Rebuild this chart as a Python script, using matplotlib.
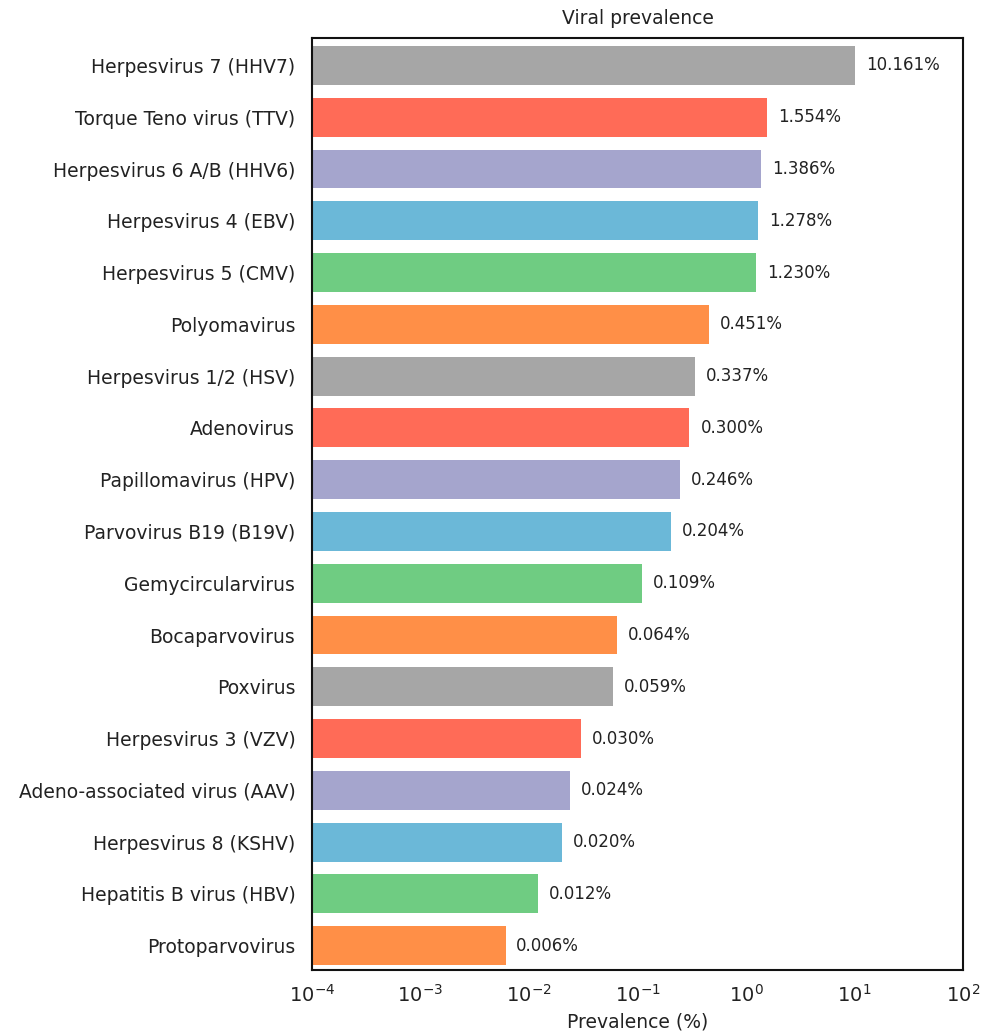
import matplotlib
matplotlib.use('Agg')
import matplotlib.pyplot as plt
import numpy as np

# virus names, top to bottom
viruses = ['Herpesvirus 7 (HHV7)', 'Torque Teno virus (TTV)', 'Herpesvirus 6 A/B (HHV6)',
           'Herpesvirus 4 (EBV)', 'Herpesvirus 5 (CMV)', 'Polyomavirus',
           'Herpesvirus 1/2 (HSV)', 'Adenovirus', 'Papillomavirus (HPV)',
           'Parvovirus B19 (B19V)', 'Gemycircularvirus', 'Bocaparvovirus',
           'Poxvirus', 'Herpesvirus 3 (VZV)', 'Adeno-associated virus (AAV)',
           'Herpesvirus 8 (KSHV)', 'Hepatitis B virus (HBV)', 'Protoparvovirus']
prevalence = [10.161, 1.554, 1.386, 1.278, 1.230, 0.451, 0.337, 0.300, 0.246,
              0.204, 0.109, 0.064, 0.059, 0.030, 0.024, 0.020, 0.012, 0.006]
palette = ['#a6a6a6', '#ff6b57', '#a5a5cd', '#6bb8d8', '#6fcc82', '#ff8f47']

n = len(viruses)
ypos = np.arange(n)[::-1]
colors = [palette[i % len(palette)] for i in range(n)]

fig = plt.figure(figsize=(9.82, 10.34), dpi=100)
ax = fig.add_axes([0.3177, 0.0619, 0.663, 0.9013])

ax.barh(ypos, prevalence, height=0.75, color=colors, left=1e-4)
ax.set_xscale('log')
ax.set_xlim(1e-4, 1e2)
ax.set_ylim(-0.47, n - 0.47)

for y, v in zip(ypos, prevalence):
    ax.annotate('%.3f%%' % v, xy=(v, y), xytext=(8, 0), textcoords='offset points',
                va='center', ha='left', fontsize=12, color='#222222')

ax.set_yticks(ypos)
ax.set_yticklabels(viruses, fontsize=13.5, color='#222222')
ax.set_xticks([1e-4, 1e-3, 1e-2, 1e-1, 1e0, 1e1, 1e2])
ax.tick_params(axis='x', labelsize=14, length=0, pad=10, labelcolor='#222222')
ax.tick_params(axis='y', length=0, pad=12)
ax.minorticks_off()
for s in ax.spines.values():
    s.set_linewidth(1.5)
    s.set_color('#111111')

ax.set_xlabel('Prevalence (%)', fontsize=13.5, color='#222222', labelpad=5)
ax.set_title('Viral prevalence', fontsize=13.5, color='#222222', pad=10)

fig.savefig('out.png', dpi=100)
